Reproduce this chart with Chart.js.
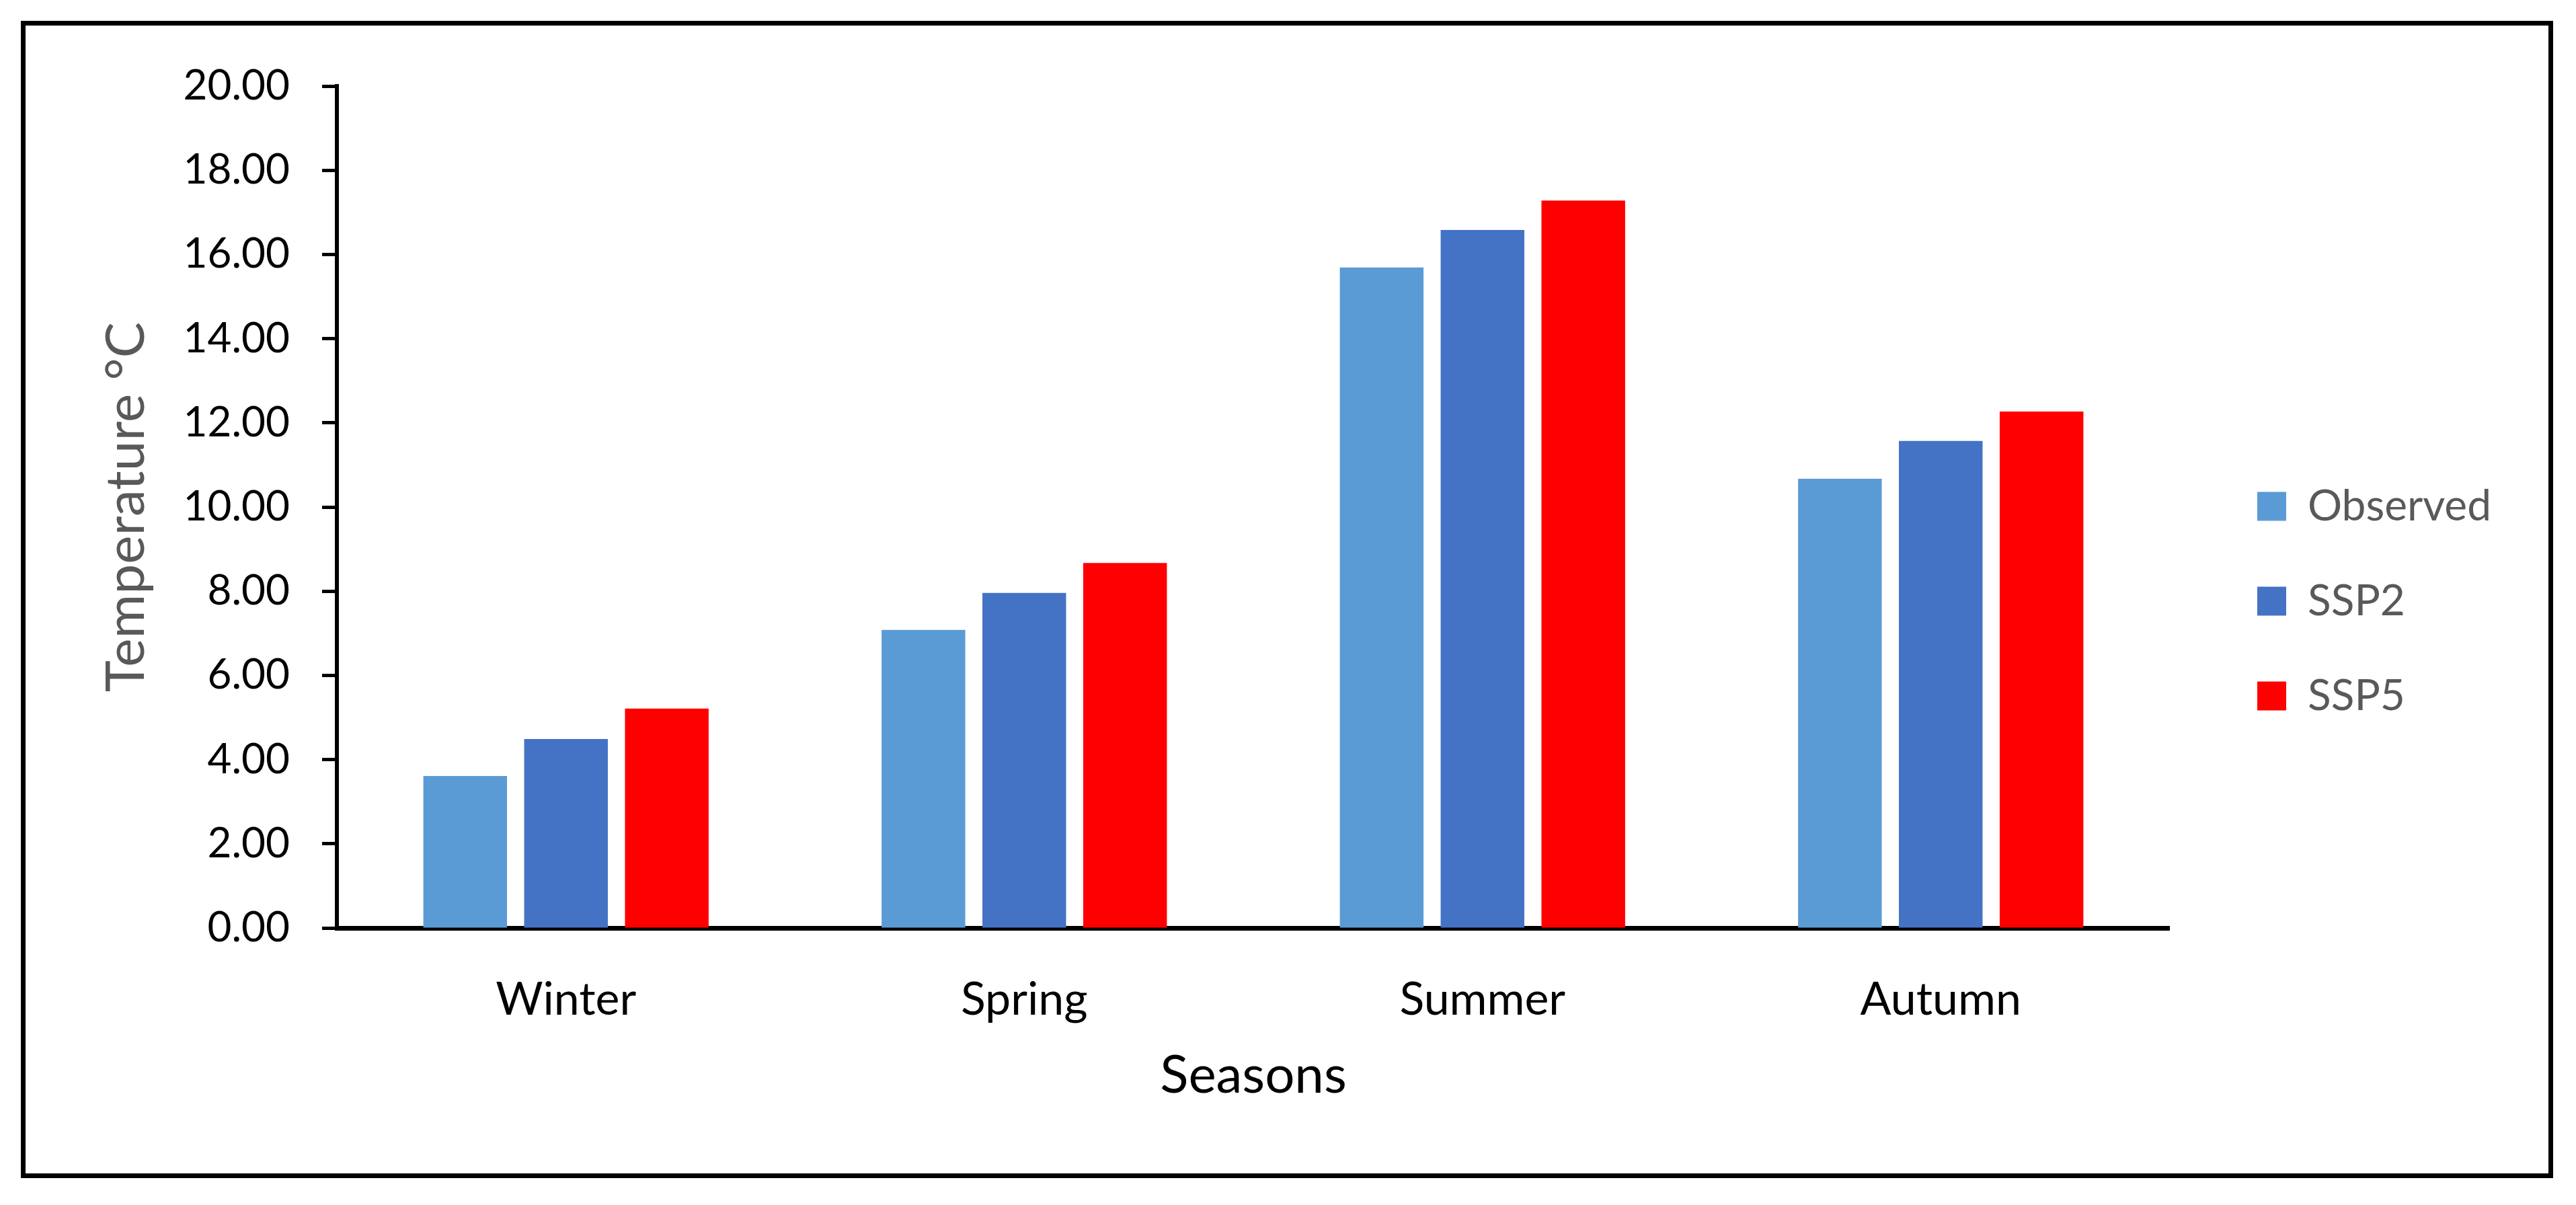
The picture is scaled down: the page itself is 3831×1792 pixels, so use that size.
<!DOCTYPE html>
<html>
<head>
<meta charset="utf-8">
<script src="https://cdn.jsdelivr.net/npm/chart.js@4.4.1/dist/chart.umd.min.js"></script>
<style>
    html, body { margin: 0; padding: 0; background: #fff; }
    #frame {
        position: absolute;
        left: 31px; top: 31px;
        width: 3752px; height: 1707px;
        border: 7px solid #000;
        background: #fff;
    }
    #frame canvas { display: block; }
</style>
</head>
<body>
<div id="frame"><canvas id="seasonChart" width="3752" height="1707"></canvas></div>
<script>
const seasons = ['Winter', 'Spring', 'Summer', 'Autumn'];
const observed = [3.61, 7.08, 15.69, 10.67];
const ssp2 = [4.49, 7.96, 16.58, 11.57];
const ssp5 = [5.21, 8.67, 17.28, 12.27];
const seriesNames = ['Observed', 'SSP2', 'SSP5'];

const fontFamily = 'Lato, "Open Sans", sans-serif';

const ctx = document.getElementById('seasonChart').getContext('2d');

new Chart(ctx, {
    type: 'bar',
    data: {
        labels: seasons,
        datasets: [
            { label: seriesNames[0], data: observed, backgroundColor: '#5B9BD5' },
            { label: seriesNames[1], data: ssp2, backgroundColor: '#4472C4' },
            { label: seriesNames[2], data: ssp5, backgroundColor: '#FF0000' }
        ]
    },
    options: {
        responsive: false,
        devicePixelRatio: 1,
        animation: false,
        categoryPercentage: 0.66,
        barPercentage: 0.83,
        layout: { padding: { top: 90, right: 75, bottom: 85, left: 0 } },
        scales: {
            x: {
                grid: { display: false },
                border: { display: true, color: '#000', width: 7 },
                ticks: { color: '#000', font: { family: fontFamily, size: 68 }, padding: 58 },
                title: {
                    display: true,
                    text: 'Seasons',
                    color: '#000',
                    font: { family: fontFamily, size: 78 },
                    padding: { top: 13, bottom: 13 }
                },
                afterFit: (scale) => { scale.height = 280; }
            },
            y: {
                min: 0,
                max: 20,
                ticks: {
                    stepSize: 2,
                    color: '#000',
                    font: { family: fontFamily, size: 62 },
                    padding: 48,
                    callback: (v) => v.toFixed(2)
                },
                grid: {
                    display: true,
                    drawOnChartArea: false,
                    drawTicks: true,
                    tickLength: 22,
                    tickWidth: 5,
                    tickColor: '#000'
                },
                border: { display: true, color: '#000', width: 6 },
                title: {
                    display: true,
                    text: 'Temperature °C',
                    color: '#595959',
                    font: { family: fontFamily, size: 80 },
                    padding: { top: 102, bottom: 102 }
                },
                afterFit: (scale) => { scale.width = 463; }
            },
            spacer: {
                type: 'linear',
                position: 'right',
                display: true,
                grid: { display: false },
                border: { display: false },
                ticks: { display: false },
                afterFit: (scale) => { scale.width = 53; }
            }
        },
        plugins: {
            legend: {
                position: 'right',
                labels: {
                    color: '#595959',
                    font: { family: fontFamily, size: 64 },
                    boxWidth: 43,
                    boxHeight: 43,
                    padding: 77
                }
            },
            tooltip: { enabled: false }
        }
    }
});
</script>
</body>
</html>
